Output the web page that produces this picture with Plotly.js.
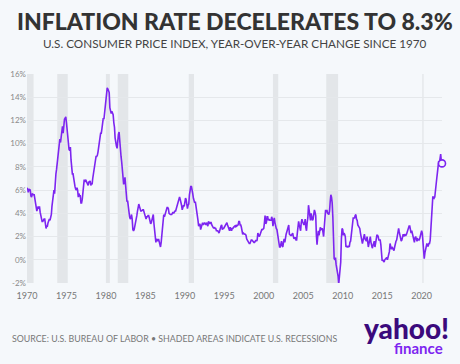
<!DOCTYPE html>
<html>
<head>
<meta charset="utf-8">
<script src="https://cdn.plot.ly/plotly-3.0.1.min.js"></script>
<style>
html,body{margin:0;padding:0;background:#f5f8fb;}
#chart{width:460px;height:364px;}
</style>
</head>
<body>
<div id="chart"></div>
<script>
// Monthly CPI-U year-over-year change (%), Jan 1970 onward
var cpi1970s = [
 6.2,6.1,5.8,6.1,6.0,6.0,5.5,5.4,5.7,5.6,5.6,5.6,
 5.3,5.0,4.7,4.2,4.4,4.6,4.4,4.6,4.1,3.8,3.3,3.3,
 3.3,3.5,3.5,3.5,3.2,2.7,2.9,2.9,3.2,3.4,3.5,3.4,
 3.6,3.9,4.6,5.1,5.5,6.0,5.7,7.4,7.4,7.8,8.3,8.7,
 9.4,10.0,10.4,10.1,10.7,10.9,11.5,10.9,11.9,12.1,12.2,12.3,
 11.8,11.2,10.3,10.2,9.5,9.4,9.7,8.6,7.9,7.4,7.4,6.9,
 6.7,6.3,6.1,6.0,6.2,6.0,5.4,5.7,5.5,5.5,4.9,4.9,
 5.2,5.9,6.4,6.9,6.7,6.9,6.8,6.6,6.6,6.4,6.7,6.7,
 6.8,6.4,6.6,6.5,7.0,7.4,7.7,7.8,8.3,8.9,8.9,9.0,
 9.3,9.9,10.1,10.5,10.9,10.9,11.3,11.8,12.2,12.1,12.6,13.3
];
var cpi1980s = [
 13.9,14.2,14.8,14.7,14.4,14.4,13.1,12.9,12.6,12.8,12.6,12.5,
 11.8,11.4,10.5,10.0,9.8,9.6,10.8,10.8,11.0,10.1,9.6,8.9,
 8.4,7.6,6.8,6.5,6.7,7.1,6.4,5.9,5.0,5.1,4.6,3.8,
 3.7,3.5,3.6,3.9,3.5,2.6,2.5,2.6,2.9,2.9,3.3,3.8,
 4.2,4.6,4.8,4.6,4.2,4.2,4.2,4.3,4.3,4.3,4.1,3.9,
 3.5,3.5,3.7,3.7,3.8,3.8,3.6,3.3,3.1,3.2,3.5,3.8,
 3.9,3.1,2.3,1.6,1.5,1.8,1.6,1.6,1.8,1.5,1.3,1.1,
 1.5,2.1,3.0,3.8,3.9,3.7,3.9,4.3,4.4,4.5,4.5,4.4,
 4.0,3.9,3.9,3.9,3.9,4.0,4.1,4.0,4.2,4.2,4.2,4.4,
 4.7,4.8,5.0,5.1,5.4,5.2,5.0,4.7,4.3,4.5,4.7,4.6
];
var cpi1990s = [
 5.2,5.3,5.2,4.7,4.4,4.7,4.8,5.6,6.2,6.3,6.3,6.1,
 5.7,5.3,4.9,4.9,5.0,4.7,4.4,3.8,3.4,2.9,3.0,3.1,
 2.6,2.8,3.2,3.2,3.0,3.1,3.2,3.1,3.0,3.2,3.0,2.9,
 3.3,3.2,3.1,3.2,3.2,3.0,2.8,2.8,2.7,2.8,2.7,2.7,
 2.5,2.5,2.5,2.4,2.3,2.5,2.8,2.9,3.0,2.6,2.7,2.7,
 2.8,2.9,2.9,3.1,3.2,3.0,2.8,2.6,2.5,2.8,2.6,2.5,
 2.7,2.7,2.8,2.9,2.9,2.8,3.0,2.9,3.0,3.0,3.3,3.3,
 3.0,3.0,2.8,2.5,2.2,2.3,2.2,2.2,2.2,2.1,1.8,1.7,
 1.6,1.4,1.4,1.4,1.7,1.7,1.7,1.6,1.5,1.5,1.5,1.6,
 1.7,1.6,1.7,2.3,2.1,2.0,2.1,2.3,2.6,2.6,2.6,2.7
];
var cpi2000s = [
 2.7,3.2,3.8,3.1,3.2,3.7,3.7,3.4,3.5,3.4,3.4,3.4,
 3.7,3.5,2.9,3.3,3.6,3.2,2.7,2.7,2.6,2.1,1.9,1.6,
 1.1,1.1,1.5,1.6,1.2,1.1,1.5,1.8,1.5,2.0,2.2,2.4,
 2.6,3.0,3.0,2.2,2.1,2.1,2.1,2.2,2.3,2.0,1.8,1.9,
 1.9,1.7,1.7,2.3,3.1,3.3,3.0,2.7,2.5,3.2,3.5,3.3,
 3.0,3.0,3.1,3.5,2.8,2.5,3.2,3.6,4.7,4.3,3.5,3.4,
 4.0,3.6,3.4,3.5,4.2,4.3,4.1,3.8,2.1,1.3,2.0,2.5,
 2.1,2.4,2.8,2.6,2.7,2.7,2.4,2.0,2.8,3.5,4.3,4.1,
 4.3,4.0,4.0,3.9,4.2,5.0,5.6,5.4,4.9,3.7,1.1,0.1,
 0.0,0.2,-0.4,-0.7,-1.3,-1.4,-2.1,-1.5,-1.3,-0.2,1.8,2.7
];
var cpi2010s = [
 2.6,2.1,2.3,2.2,2.0,1.1,1.2,1.1,1.1,1.2,1.1,1.5,
 1.6,2.1,2.7,3.2,3.6,3.6,3.6,3.8,3.9,3.5,3.4,3.0,
 2.9,2.9,2.7,2.3,1.7,1.7,1.4,1.7,2.0,2.2,1.8,1.7,
 1.6,2.0,1.5,1.1,1.4,1.8,2.0,1.5,1.2,1.0,1.2,1.5,
 1.6,1.1,1.5,2.0,2.1,2.1,2.0,1.7,1.7,1.7,1.3,0.8,
 -0.1,0.0,-0.1,-0.2,0.0,0.1,0.2,0.2,0.0,0.2,0.5,0.7,
 1.4,1.0,0.9,1.1,1.0,1.0,0.8,1.1,1.5,1.6,1.7,2.1,
 2.5,2.7,2.4,2.2,1.9,1.6,1.7,1.9,2.2,2.0,2.2,2.1,
 2.1,2.2,2.4,2.5,2.8,2.9,2.9,2.7,2.3,2.5,2.2,1.9,
 1.6,1.5,1.9,2.0,1.8,1.6,1.8,1.7,1.7,1.8,2.1,2.3
];
var cpi2020s = [
 2.5,2.3,1.5,0.3,0.1,0.6,1.0,1.3,1.4,1.2,1.2,1.4,
 1.4,1.7,2.6,4.2,5.0,5.4,5.4,5.3,5.4,6.2,6.8,7.0,
 7.5,7.9,8.5,8.3,8.6,9.1,8.5,8.3
];
var startYear = 1970;
var recessionStarts = ['1969-12-01','1973-11-01','1980-01-01','1981-07-01','1990-07-01','2001-03-01','2007-12-01','2020-02-01'];
var recessionEnds   = ['1970-11-01','1975-03-01','1980-07-01','1982-11-01','1991-03-01','2001-11-01','2009-06-01','2020-04-01'];
var yTickVals = [-2,0,2,4,6,8,10,12,14,16];
var yTickText = ['-2%','0%','2%','4%','6%','8%','10%','12%','14%','16%'];
var xTickYears = [1970,1975,1980,1985,1990,1995,2000,2005,2010,2015,2020];

var values = [].concat(cpi1970s, cpi1980s, cpi1990s, cpi2000s, cpi2010s, cpi2020s);
function pad(n){return (n<10?'0':'')+n;}
var dates = values.map(function(v,i){
  var y = startYear + Math.floor(i/12), m = i%12 + 1;
  return y + '-' + pad(m) + '-01';
});
var lastIdx = values.length - 1;

var shapes = recessionStarts.map(function(s,i){
  return {type:'rect', xref:'x', yref:'paper', x0:s, x1:recessionEnds[i], y0:0, y1:1,
          fillcolor:'#e3e6e9', line:{width:0}, layer:'below'};
});

var traces = [
  {x:dates, y:values, type:'scatter', mode:'lines',
   line:{color:'#7d25f0', width:1.6}, hoverinfo:'skip'},
  {x:[dates[lastIdx]], y:[values[lastIdx]], type:'scatter', mode:'markers',
   marker:{size:7, color:'#f5f8fb', line:{color:'#7d25f0', width:1.6}}, cliponaxis:false}
];

var layout = {
  width:460, height:364,
  paper_bgcolor:'#f5f8fb', plot_bgcolor:'#f5f8fb',
  margin:{l:27, r:18, t:74, b:81},
  showlegend:false,
  shapes:shapes,
  xaxis:{type:'date', range:['1970-01-01', dates[lastIdx]],
         tickvals:xTickYears.map(function(y){return y+'-01-01';}),
         ticktext:xTickYears.map(String),
         showgrid:false, zeroline:false, showline:false,
         ticks:'outside', ticklen:4, tickcolor:'rgba(0,0,0,0)',
         tickfont:{family:'Lato, sans-serif', size:9, color:'#777'}},
  yaxis:{range:[-2,16], tickvals:yTickVals, ticktext:yTickText,
         showgrid:true, gridcolor:'#e5e8eb', gridwidth:1, zeroline:false, showline:false, ticks:'',
         tickfont:{family:'Lato, sans-serif', size:8, color:'#8a8a8a'}, automargin:false},
  annotations:[
    {text:'INFLATION RATE DECELERATES TO 8.3%', xref:'paper', yref:'paper', xanchor:'center', yanchor:'middle',
     x:0.5, y:1.255, showarrow:false, font:{family:'Lato, sans-serif', size:23, color:'#333', weight:900}},
    {text:'U.S. CONSUMER PRICE INDEX, YEAR-OVER-YEAR CHANGE SINCE 1970', xref:'paper', yref:'paper', xanchor:'center', yanchor:'middle',
     x:0.5, y:1.15, showarrow:false, font:{family:'Lato, sans-serif', size:11.7, color:'#444'}},
    {text:'SOURCE: U.S. BUREAU OF LABOR \u2022 SHADED AREAS INDICATE U.S. RECESSIONS', xref:'paper', yref:'paper', xanchor:'left', yanchor:'middle',
     x:-0.041, y:-0.265, showarrow:false, font:{family:'Lato, sans-serif', size:8.8, color:'#777'}},
    {text:'yahoo!', xref:'paper', yref:'paper', xanchor:'right', yanchor:'middle',
     x:1.022, y:-0.215, showarrow:false, font:{family:'Lato, sans-serif', size:28, color:'#3b0a7c', weight:900}},
    {text:'finance', xref:'paper', yref:'paper', xanchor:'right', yanchor:'middle',
     x:1.008, y:-0.31, showarrow:false, font:{family:'Lato, sans-serif', size:15, color:'#7d25f0', weight:700}}
  ]
};
Plotly.newPlot('chart', traces, layout, {displayModeBar:false, staticPlot:true});
</script>
</body>
</html>
